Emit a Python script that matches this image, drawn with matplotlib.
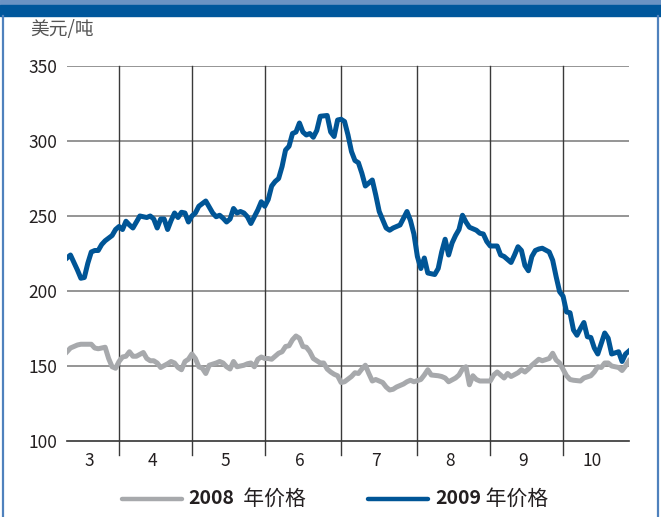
import matplotlib
matplotlib.use("Agg")
import matplotlib.pyplot as plt
import matplotlib.transforms as mtransforms
from matplotlib.lines import Line2D
from matplotlib.patches import Rectangle

plt.rcParams['font.family'] = ['Noto Sans CJK SC', 'DejaVu Sans']

# ── Data ──────────────────────────────────────────────────────────────────────
# x = trading-day index counted from the start of the plotted window (early March)
MONTH_EDGES  = [15, 36, 57, 79, 101, 122, 143]     # first day of Apr … Oct
X_END        = 162
MONTH_LABELS = ['3', '4', '5', '6', '7', '8', '9', '10']

Y_TICKS = [100, 150, 200, 250, 300, 350]
Y_UNIT  = '美元/吨'

DAYS_2009 = [0, 1, 3, 4, 5, 6, 7, 8, 9, 10, 11, 13, 14, 15, 16, 17, 18, 19, 20, 21,
             23, 24, 25, 26, 27, 28, 29, 30, 31, 32, 33, 34, 35, 36, 37, 38, 40, 41,
             42, 43, 44, 45, 46, 47, 48, 49, 50, 51, 52, 53, 55, 56, 57, 58, 59, 60,
             61, 62, 63, 64, 65, 66, 67, 68, 69, 70, 71, 72, 73, 75, 76, 77, 78, 79,
             80, 81, 82, 83, 84, 85, 86, 88, 89, 90, 92, 93, 94, 96, 97, 98, 99, 100,
             101, 102, 103, 104, 106, 107, 108, 109, 110, 111, 112, 113, 114, 115,
             116, 118, 119, 120, 121, 122, 124, 125, 126, 127, 128, 129, 130, 131,
             132, 133, 134, 135, 136, 137, 139, 140, 141, 142, 143, 144, 145, 146,
             147, 148, 149, 150, 151, 152, 153, 154, 155, 156, 157, 159, 160, 161, 162]
PRICE_2009 = [222, 224, 214, 208.5, 209, 218.5, 226, 227, 227, 231, 233.5, 237, 241, 243,
              241, 246.5, 244, 242, 246, 250, 249, 250, 248, 242, 248, 248, 241, 247,
              252, 249, 252.5, 252, 246, 250, 252, 256.5, 260, 256, 252, 249.5, 250.5,
              248.5, 246, 248, 255, 252, 253, 252, 249.5, 245, 254, 259.5, 256.5, 261,
              270, 273, 275, 283, 294, 296.5, 305, 306, 312, 306, 304, 305, 302.5, 307,
              316.5, 317, 306, 303, 314, 314.5, 313, 304, 293, 287, 285.5, 278.5, 270,
              274, 264, 253, 242, 240.5, 242, 244, 248.5, 253, 247, 238, 223, 215, 222,
              212, 211, 215, 226, 234.5, 224, 232, 237, 241, 250.5, 246, 242.5, 240.5,
              238.5, 238, 233, 230, 230, 224, 223, 221, 219, 224, 229.5, 227, 217,
              213.5, 223, 227, 228, 228.5, 226, 220.5, 209.5, 199.5, 196.5, 186, 185.5,
              174, 170.5, 175, 179, 169.5, 169, 162, 158, 165, 172, 168.5, 158, 159.5,
              153, 158, 160]

DAYS_2008 = [0, 1, 3, 4, 6, 7, 8, 9, 10, 11, 12, 13, 14, 15, 16, 17, 18, 19, 20, 22,
             23, 24, 25, 26, 27, 29, 30, 31, 32, 33, 34, 35, 36, 37, 38, 39, 40, 41,
             43, 44, 45, 46, 47, 48, 49, 51, 52, 53, 54, 55, 56, 57, 58, 59, 61, 62,
             63, 64, 65, 66, 67, 68, 69, 70, 71, 73, 74, 75, 76, 77, 78, 79, 80, 82,
             83, 84, 85, 86, 87, 88, 89, 91, 92, 93, 94, 95, 97, 98, 99, 100, 102, 103,
             104, 105, 107, 108, 109, 110, 112, 113, 114, 115, 116, 117, 118, 119, 120,
             122, 123, 124, 125, 126, 127, 128, 130, 131, 132, 133, 134, 136, 137, 139,
             140, 141, 142, 144, 145, 146, 148, 149, 151, 152, 153, 154, 155, 156, 157,
             159, 160, 161, 162]
PRICE_2008 = [159.5, 162, 164, 164.5, 164.5, 164.5, 162, 161.5, 162, 162.5, 155, 149.5,
              148.5, 153, 156, 156.5, 159.5, 156.5, 156.5, 159, 155, 153.5, 153.5, 152,
              149, 151.5, 153, 152, 149, 147.5, 153, 154.5, 158, 155, 149.5, 148.5, 145,
              150.5, 152, 153, 152, 149.5, 148, 153, 149.5, 150.5, 151.5, 152, 149.5,
              154.5, 156, 155, 155, 154.5, 158.5, 159.5, 163, 163.5, 167.5, 170, 168.5,
              163, 162.5, 159.5, 155, 152, 152, 148, 146, 144.5, 143.5, 139, 139.5, 143,
              145.5, 145, 148, 150.5, 145, 140, 141, 139, 136, 134, 134.5, 136, 138,
              139.5, 140.5, 139.5, 141, 144, 147.5, 144, 143.5, 143, 142, 139.5, 142,
              144, 148, 149.5, 137.5, 143.5, 141, 140, 140, 140, 144, 146, 144, 142, 145,
              143, 145.5, 147.5, 146, 148, 150.5, 154.5, 153.5, 155, 158.5, 154, 152,
              143.5, 141, 140.5, 140, 142, 143.5, 146, 149.5, 149, 152, 152, 150, 149,
              147, 150, 153.5]

SERIES_LABELS = ['2008', '2009']
SERIES_SUFFIX = ['  年价格', ' 年价格']

# ── Style ─────────────────────────────────────────────────────────────────────
BLUE      = '#005596'
GREY      = '#a7a9ac'
TEXT      = '#231f20'
FRAME     = '#4f81bd'
W, H, DPI = 661, 517, 100

fig = plt.figure(figsize=(W / DPI, H / DPI), dpi=DPI)
fig.patch.set_facecolor('white')

# header band and side borders
fig.patches.append(Rectangle((0, 1 - 5 / H), 1, 5 / H, transform=fig.transFigure,
                             color='#6b93c4', zorder=0))
fig.patches.append(Rectangle((0, 1 - 16 / H), 1, 11 / H, transform=fig.transFigure,
                             color='#00579c', zorder=0))
for xp in (2.5, 658):
    fig.lines.append(Line2D([xp / W, xp / W], [0, 1 - 16 / H], transform=fig.transFigure,
                            color=FRAME, lw=1.6))

ax = fig.add_axes([67 / W, (H - 441) / H, (629 - 67) / W, (441 - 66) / H])
ax.set_xlim(0, X_END)
ax.set_ylim(100, 350)
for s in ax.spines.values():
    s.set_visible(False)

# grid
for yv in Y_TICKS[1:]:
    ax.axhline(yv, color='#8c8c8c', lw=1.3, zorder=1)
ax.axhline(Y_TICKS[0], color='#333333', lw=1.2, zorder=1, clip_on=False)
vtrans = mtransforms.blended_transform_factory(ax.transData, ax.transAxes)
for xe in MONTH_EDGES:
    ax.plot([xe, xe], [-14 / 375, 1], transform=vtrans, color='#3a3a3a', lw=1.0,
            clip_on=False, zorder=1)

ax.plot(DAYS_2008, PRICE_2008, color=GREY, lw=3.6, solid_joinstyle='round', zorder=3)
ax.plot(DAYS_2009, PRICE_2009, color=BLUE, lw=3.6, solid_joinstyle='round', zorder=4)

ax.set_yticks(Y_TICKS)
ax.set_yticklabels([str(v) for v in Y_TICKS])
ax.tick_params(axis='y', length=0, pad=7, labelsize=12.5, labelcolor=TEXT)
ax.set_xticks([])

bounds = [0] + MONTH_EDGES + [X_END]
for lab, a, b in zip(MONTH_LABELS, bounds[:-1], bounds[1:]):
    ax.text((a + b) / 2 - 1, -0.052, lab, transform=vtrans, ha='center',
            va='center', fontsize=12.5, color=TEXT)

fig.text(30 / W, 1 - 30 / H, Y_UNIT, ha='left', va='center', fontsize=13.5,
         color='#555555')

# legend
leg_y = 1 - 499 / H
items = [(122, 182, 188, GREY), (368, 428, 435, BLUE)]
for (x0, x1, xt, col), lab, suf in zip(items, SERIES_LABELS, SERIES_SUFFIX):
    fig.lines.append(Line2D([x0 / W, x1 / W], [leg_y, leg_y], transform=fig.transFigure,
                            color=col, lw=3.2, solid_capstyle='round'))
    t = fig.text(xt / W, leg_y, lab, ha='left', va='center', fontsize=14,
                 fontweight='bold', color=TEXT)
    fig.canvas.draw()
    bb = t.get_window_extent()
    fig.text(bb.x1 / W, leg_y, suf, ha='left', va='center', fontsize=15, color=TEXT)

fig.savefig('out.png', dpi=DPI)
